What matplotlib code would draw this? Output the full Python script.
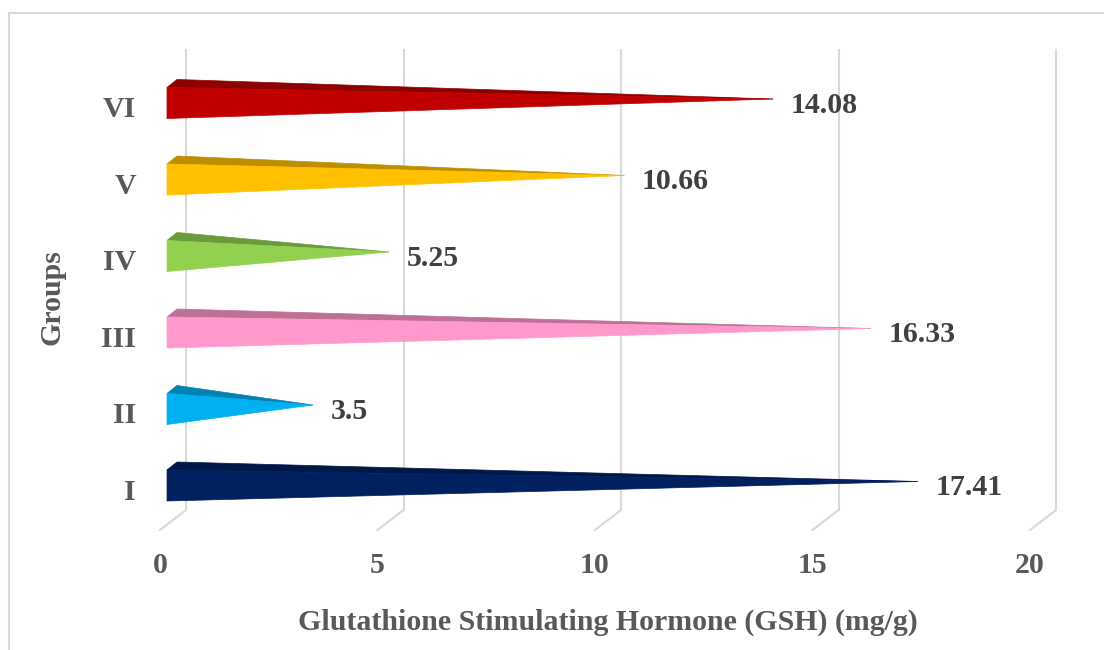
import matplotlib
matplotlib.use("Agg")
import matplotlib.pyplot as plt
from matplotlib.patches import Polygon, Rectangle
import matplotlib.colors as mcolors

# ---- data ----
groups = ["I", "II", "III", "IV", "V", "VI"]
values = [17.41, 3.5, 16.33, 5.25, 10.66, 14.08]
value_labels = ["17.41", "3.5", "16.33", "5.25", "10.66", "14.08"]
colors = ["#002060", "#00B0F0", "#FF99CC", "#92D050", "#FFC000", "#C00000"]
xticks = [0, 5, 10, 15, 20]
xlabel = "Glutathione Stimulating Hormone (GSH) (mg/g)"
ylabel = "Groups"

# ---- layout (pixel mapping) ----
W, H = 1104, 650
X0PX, XSCALE = 160.0, 43.5     # pixel of value 0, px per unit
Y0PX, YSCALE = 485.5, 76.5     # pixel of category 0, px per category
xlim = (-0.5, 21.5)
ylim = (-1.3, 5.9)

fig = plt.figure(figsize=(W / 100, H / 100), dpi=100)
left_px = X0PX + XSCALE * xlim[0]
right_px = X0PX + XSCALE * xlim[1]
top_px = Y0PX - YSCALE * ylim[1]
bot_px = Y0PX - YSCALE * ylim[0]
ax = fig.add_axes([left_px / W, 1 - bot_px / H, (right_px - left_px) / W, (bot_px - top_px) / H])
ax.set_xlim(*xlim)
ax.set_ylim(*ylim)
ax.axis("off")

font = dict(family="Liberation Serif", weight="bold")
grey = "#595959"
grid_c = "#D9D9D9"

# chart border
fig.patches.append(Rectangle((9 / W, -0.1), 1.2, 1 - 13 / H + 0.1, transform=fig.transFigure,
                             fill=False, edgecolor=grid_c, linewidth=1.5))

# 3D offsets (in data units)
depth_x = 26 / XSCALE
depth_y = 20 / YSCALE
wall_bot = -24.5 / YSCALE
wall_top = (Y0PX - 50) / YSCALE
floor_front = wall_bot - depth_y

for t in xticks:
    ax.plot([t + depth_x, t + depth_x], [wall_bot, wall_top], color=grid_c, lw=1.5, zorder=1)
    ax.plot([t, t + depth_x], [floor_front, wall_bot], color=grid_c, lw=1.5, zorder=1)
    ax.text(t, -1.05, str(t), ha="center", va="center", fontsize=21.5, color=grey, **font)

# pyramid bars
base_x = 7 / XSCALE
half_h = 15.5 / YSCALE
bdx = 10 / XSCALE
bdy = 8 / YSCALE
for i, (v, c, lab) in enumerate(zip(values, colors, value_labels)):
    ft = (base_x, i + half_h)
    fb = (base_x, i - half_h)
    bt = (base_x + bdx, i + half_h + bdy)
    apex = (v + bdx / 2 - 0.1, i + bdy / 2)
    top_c = tuple(k * 0.74 for k in mcolors.to_rgb(c))
    ax.add_patch(Polygon([ft, bt, apex], closed=True, facecolor=top_c, edgecolor=top_c, lw=0.5, zorder=3))
    ax.add_patch(Polygon([ft, fb, apex], closed=True, facecolor=c, edgecolor=c, lw=0.5, zorder=4))
    ax.text(v + 0.42, i - 0.03, lab, ha="left", va="center", fontsize=21.5, color="#404040", **font)
    ax.text(-24 / XSCALE, i - 0.09, groups[i], ha="right", va="center", fontsize=21.5, color=grey, **font)

fig.text(608 / W, 1 - 622 / H, xlabel, ha="center", va="center", fontsize=21.5, color=grey, **font)
fig.text(52 / W, 1 - 297 / H, ylabel, ha="center", va="center", rotation=90, fontsize=21.5, color=grey, **font)

fig.savefig("out.png", dpi=100, facecolor="white")
